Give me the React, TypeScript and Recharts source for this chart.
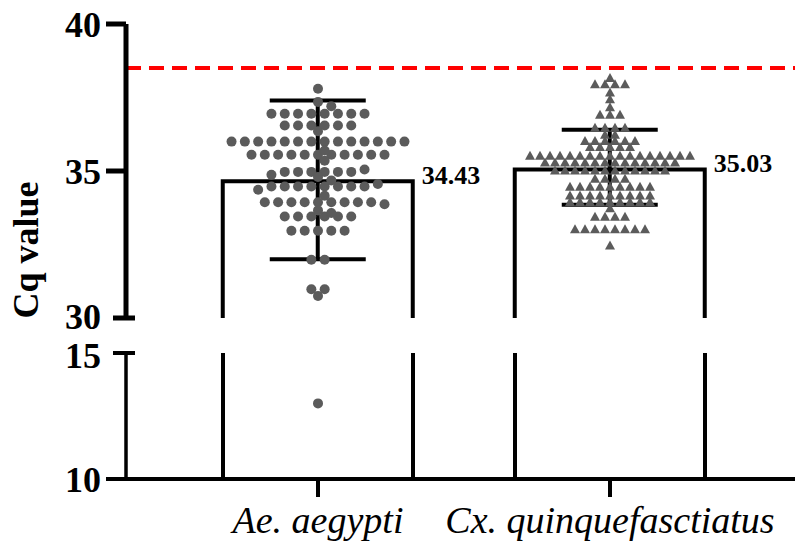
import React from "react";
import { ComposedChart, Bar, ErrorBar, Scatter, XAxis, YAxis, ReferenceLine, LabelList } from "recharts";

const species = ["Ae. aegypti", "Cx. quinquefasctiatus"];
const speciesPos = [1, 2];
const barMeans = [34.65, 35.05];
const meanLabels = ["34.43", "35.03"];
const sdLow = [32.0, 33.85];
const sdHigh = [37.4, 36.4];
const cutoff = 38.5;
const upperTicks = [30, 35, 40];
const lowerTicks = [10, 15];

// [Cq, how many samples sit at that Cq]
const aeRows: [number, number][] = [
  [37.8, 1], [37.35, 1], [37.2, 1], [36.95, 8], [36.55, 6], [36.35, 1], [36.0, 14],
  [35.7, 1], [35.55, 11], [35.35, 1], [35.05, 1], [34.97, 6], [34.87, 1], [34.8, 1],
  [34.68, 1], [34.56, 1], [34.47, 8], [34.36, 1], [34.16, 1], [33.94, 9], [33.87, 1],
  [33.66, 1], [33.57, 1], [33.45, 6], [32.97, 5], [31.98, 2], [30.98, 2], [30.75, 1],
];
const aeLowRows: [number, number][] = [[13.0, 1]];
const cxRows: [number, number][] = [
  [38.15, 1], [37.93, 4], [37.65, 1], [37.42, 1], [37.15, 1], [36.9, 3], [36.45, 4],
  [36.22, 2], [36.0, 6], [35.8, 5], [35.5, 17], [35.27, 14], [35.0, 12], [34.72, 4],
  [34.45, 9], [34.15, 9], [33.93, 9], [33.72, 1], [33.43, 4], [33.0, 8], [32.45, 1],
];

const FONT = "'Liberation Serif', 'Times New Roman', serif";
const DOT = "#5b5b5b";
const AXIS_X = 126;
const BAR_W = 190;
const X_PX = 292; // pixels between the two groups
const X_MIN = 1 - (318 - AXIS_X) / X_PX;
const X_DOMAIN: [number, number] = [X_MIN, X_MIN + (795 - AXIS_X) / X_PX];
const Y_PX = 29.4; // pixels per Cq unit on the upper panel

// simple beeswarm: widest rows first, then the rest slide sideways until they fit
function swarm(rows: [number, number][], center: number, step: number, minDist: number) {
  const groups = [...rows].sort((a, b) => b[1] - a[1] || b[0] - a[0]);
  const placed: { dx: number; v: number }[] = [];
  const hits = (dx: number, v: number) =>
    placed.some(p => Math.hypot(p.dx - dx, (p.v - v) * Y_PX) < minDist);
  for (const [v, n] of groups) {
    const base = Array.from({ length: n }, (_, i) => (i - (n - 1) / 2) * step);
    let done = false;
    for (let k = 0; k < 60 && !done; k++) {
      const shift = (k % 2 ? 1 : -1) * Math.ceil(k / 2) * step / 2;
      if (base.every(b => !hits(b + shift, v))) {
        base.forEach(b => placed.push({ dx: b + shift, v }));
        done = true;
      }
    }
    if (!done) base.forEach(b => placed.push({ dx: b, v }));
  }
  return placed.map(p => ({ x: center + p.dx / X_PX, y: p.v }));
}

const aePoints = swarm(aeRows, speciesPos[0], 13.3, 7.5);
const aeLowPoints = swarm(aeLowRows, speciesPos[0], 13.3, 7.5);
const cxPoints = swarm(cxRows, speciesPos[1], 10, 6);

const barData = species.map((name, i) => ({
  name,
  x: speciesPos[i],
  y: barMeans[i],
  err: [barMeans[i] - sdLow[i], sdHigh[i] - barMeans[i]],
  label: meanLabels[i],
}));

// the break ends get a short cap across the axis instead of an outside tick
const yTick = (cap: number, w: number, capDy: number) => (p: any) => {
  const v = p.payload.value;
  const y = p.payload.coordinate ?? p.y;
  const isCap = v === cap;
  return (
    <g>
      <line x1={isCap ? AXIS_X - 13 : AXIS_X - 20} x2={isCap ? AXIS_X + 9 : AXIS_X} y1={y} y2={y} stroke="#000" strokeWidth={w} />
      <text x={AXIS_X - 25} y={y + (isCap ? capDy : 1)} textAnchor="end" dominantBaseline="central" fontFamily={FONT} fontWeight="bold" fontSize={36} fill="#000">
        {v}
      </text>
    </g>
  );
};

const xTick = (p: any) => (
  <text x={p.x} y={p.y + 34} textAnchor="middle" fontFamily={FONT} fontStyle="italic" fontSize={38} fill="#000">
    {species[speciesPos.indexOf(p.payload.value)]}
  </text>
);

// the bar's own width comes out 0 on the hidden-tick panel, so draw it around its centre
const openBar = (p: any) => {
  const cx = p.x + p.width / 2;
  const l = cx - BAR_W / 2, r = cx + BAR_W / 2;
  const { y, height } = p;
  return (
    <path d={`M${l},${y + height} L${l},${y} L${r},${y} L${r},${y + height}`}
      fill="#fff" stroke="#000" strokeWidth={4} />
  );
};

const barSides = (p: any) => {
  const cx = p.x + p.width / 2;
  const l = cx - BAR_W / 2, r = cx + BAR_W / 2;
  const { y, height } = p;
  const top = p.background ? Math.max(p.background.y, y) : y;
  const bottom = y + height;
  return (
    <g stroke="#000" strokeWidth={4}>
      <line x1={l} x2={l} y1={top} y2={bottom} />
      <line x1={r} x2={r} y1={top} y2={bottom} />
    </g>
  );
};

const circle = (p: any) => <circle cx={p.cx} cy={p.cy} r={5} fill={DOT} />;
const triangle = (p: any) => (
  <path d={`M${p.cx},${p.cy - 5.5} L${p.cx + 5},${p.cy + 3.5} L${p.cx - 5},${p.cy + 3.5} Z`} fill={DOT} />
);

const meanLabel = (p: any) => (
  <text x={p.x + p.width / 2 + BAR_W / 2 + 9} y={p.y - 6} dominantBaseline="central" fontFamily={FONT} fontWeight="bold" fontSize={26} fill="#000">
    {p.value}
  </text>
);

export default function App() {
  return (
    <div style={{ position: "absolute", left: 0, top: 0, width: 795, height: 542, background: "#fff" }}>
      <div style={{ position: "absolute", left: 0, top: 0 }}>
        <ComposedChart width={795} height={340} data={barData} margin={{ top: 24, right: 0, bottom: 22, left: 0 }}>
          <XAxis type="number" dataKey="x" domain={X_DOMAIN} allowDataOverflow ticks={speciesPos} interval={0}
            height={0} axisLine={false} tickLine={false} tick={false} />
          <YAxis type="number" dataKey="y" domain={[30, 40]} allowDataOverflow ticks={upperTicks} interval={0}
            width={AXIS_X} axisLine={{ stroke: "#000", strokeWidth: 5 }} tickLine={false} tick={yTick(30, 5, -1)} />
          <ReferenceLine y={cutoff} stroke="#ff0000" strokeWidth={4} strokeDasharray="15 8" />
          <Bar dataKey="y" barSize={BAR_W} shape={openBar} isAnimationActive={false}>
            <ErrorBar dataKey="err" width={48} stroke="#000" strokeWidth={4} direction="y" />
            <LabelList dataKey="label" content={meanLabel} />
          </Bar>
          <Scatter data={aePoints} shape={circle} isAnimationActive={false} />
          <Scatter data={cxPoints} shape={triangle} isAnimationActive={false} />
        </ComposedChart>
      </div>
      <div style={{ position: "absolute", left: 0, top: 330 }}>
        <ComposedChart width={795} height={212} data={barData} margin={{ top: 23, right: 0, bottom: 0, left: 0 }}>
          <XAxis type="number" dataKey="x" domain={X_DOMAIN} allowDataOverflow ticks={speciesPos} interval={0}
            height={63} axisLine={{ stroke: "#000", strokeWidth: 4 }} tickLine={{ stroke: "#000", strokeWidth: 4 }}
            tickSize={18} tick={xTick} />
          <YAxis type="number" dataKey="y" domain={[10, 15]} allowDataOverflow ticks={lowerTicks} interval={0}
            width={AXIS_X} axisLine={{ stroke: "#000", strokeWidth: 3.5 }} tickLine={false} tick={yTick(15, 4, 3)} />
          <Bar dataKey="y" barSize={BAR_W} shape={barSides} isAnimationActive={false} />
          <Scatter data={aeLowPoints} shape={circle} isAnimationActive={false} />
        </ComposedChart>
      </div>
      <svg style={{ position: "absolute", left: 0, top: 0 }} width={80} height={542}>
        <text x={38} y={250} transform="rotate(-90, 38, 250)" textAnchor="middle" fontFamily={FONT}
          fontWeight="bold" fontSize={36} fill="#000">
          Cq value
        </text>
      </svg>
    </div>
  );
}
